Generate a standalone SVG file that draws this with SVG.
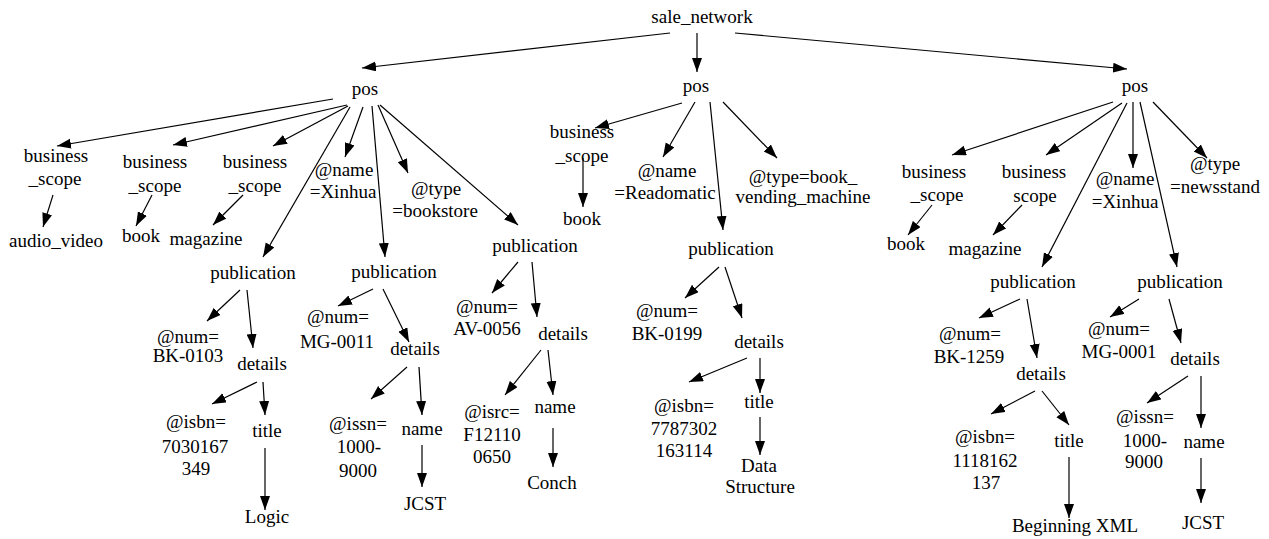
<svg xmlns="http://www.w3.org/2000/svg" width="1269" height="539" viewBox="0 0 1269 539" font-family="'Liberation Serif', 'Times New Roman', Times, 'DejaVu Serif', serif">
<style>
text{font-family:'Liberation Serif','Times New Roman',Times,'DejaVu Serif',serif;font-size:19px;fill:#000;text-anchor:middle}
.c line{stroke:#000;stroke-width:1.2;marker-end:url(#ah)}
</style>
<defs>
<marker id="ah" markerUnits="userSpaceOnUse" markerWidth="15" markerHeight="11" refX="14" refY="5" orient="auto" viewBox="0 0 15 11"><path d="M0,0 L14,5 L0,10 z" fill="#000"/></marker>
</defs>
<rect width="1269" height="539" fill="#fff"/>
<g class="c" id="connectors">
<line x1="670" y1="33" x2="362" y2="68"/>
<line x1="697" y1="33" x2="697" y2="72"/>
<line x1="735" y1="33" x2="1127" y2="69"/>
<line x1="333" y1="99" x2="57" y2="146"/>
<line x1="347" y1="105" x2="173" y2="145"/>
<line x1="348" y1="106" x2="273" y2="146"/>
<line x1="350" y1="107" x2="263" y2="257"/>
<line x1="363" y1="107" x2="345" y2="157"/>
<line x1="372" y1="106" x2="385" y2="257"/>
<line x1="378" y1="105" x2="408" y2="173"/>
<line x1="380" y1="105" x2="518" y2="225"/>
<line x1="53" y1="195" x2="43" y2="227"/>
<line x1="152" y1="195" x2="136" y2="226"/>
<line x1="243" y1="195" x2="213" y2="225"/>
<line x1="240" y1="290" x2="207" y2="321"/>
<line x1="247" y1="290" x2="253" y2="348"/>
<line x1="257" y1="382" x2="212" y2="404"/>
<line x1="263" y1="382" x2="265" y2="415"/>
<line x1="265" y1="448" x2="265" y2="510"/>
<line x1="373" y1="289" x2="338" y2="306"/>
<line x1="383" y1="289" x2="409" y2="342"/>
<line x1="407" y1="367" x2="371" y2="399"/>
<line x1="419" y1="367" x2="422" y2="415"/>
<line x1="422" y1="445" x2="422" y2="487"/>
<line x1="518" y1="262" x2="492" y2="293"/>
<line x1="532" y1="262" x2="537" y2="317"/>
<line x1="541" y1="350" x2="505" y2="395"/>
<line x1="548" y1="350" x2="553" y2="395"/>
<line x1="553" y1="428" x2="553" y2="467"/>
<line x1="682" y1="103" x2="595" y2="128"/>
<line x1="583" y1="158" x2="583" y2="207"/>
<line x1="695" y1="102" x2="663" y2="157"/>
<line x1="710" y1="102" x2="723" y2="230"/>
<line x1="723" y1="102" x2="777" y2="158"/>
<line x1="719" y1="267" x2="685" y2="298"/>
<line x1="725" y1="267" x2="742" y2="318"/>
<line x1="747" y1="358" x2="689" y2="382"/>
<line x1="760" y1="358" x2="760" y2="393"/>
<line x1="760" y1="417" x2="760" y2="455"/>
<line x1="1113" y1="102" x2="952" y2="155"/>
<line x1="1122" y1="103" x2="1046" y2="155"/>
<line x1="1127" y1="103" x2="1042" y2="267"/>
<line x1="1133" y1="102" x2="1133" y2="168"/>
<line x1="1140" y1="102" x2="1177" y2="267"/>
<line x1="1153" y1="102" x2="1207" y2="158"/>
<line x1="932" y1="205" x2="908" y2="235"/>
<line x1="1022" y1="205" x2="993" y2="235"/>
<line x1="1020" y1="299" x2="979" y2="318"/>
<line x1="1027" y1="299" x2="1037" y2="358"/>
<line x1="1035" y1="391" x2="991" y2="414"/>
<line x1="1042" y1="391" x2="1069" y2="425"/>
<line x1="1069" y1="457" x2="1069" y2="518"/>
<line x1="1139" y1="299" x2="1110" y2="317"/>
<line x1="1169" y1="299" x2="1181" y2="343"/>
<line x1="1188" y1="376" x2="1147" y2="403"/>
<line x1="1201" y1="376" x2="1201" y2="428"/>
<line x1="1201" y1="458" x2="1201" y2="503"/>
</g>
<g id="sale_network"><text x="702" y="23">sale_network</text></g>
<g id="pos1"><text x="365" y="95">pos</text></g>
<g id="pos2"><text x="696" y="92">pos</text></g>
<g id="pos3"><text x="1135" y="92">pos</text></g>
<g id="bs1"><text x="56" y="162">business</text><text x="55" y="185">_scope</text></g>
<g id="audio_video"><text x="56" y="247">audio_video</text></g>
<g id="bs2"><text x="155" y="168">business</text><text x="155" y="192">_scope</text></g>
<g id="book1"><text x="141" y="242">book</text></g>
<g id="bs3"><text x="255" y="168">business</text><text x="255" y="192">_scope</text></g>
<g id="magazine1"><text x="206" y="245">magazine</text></g>
<g id="name1"><text x="344" y="176">@name</text><text x="343" y="198">=Xinhua</text></g>
<g id="type1"><text x="436" y="195">@type</text><text x="435" y="217">=bookstore</text></g>
<g id="pub1"><text x="253" y="279">publication</text></g>
<g id="num1"><text x="188" y="343">@num=</text><text x="188" y="362">BK-0103</text></g>
<g id="details1"><text x="262" y="370">details</text></g>
<g id="isbn1"><text x="196" y="428">@isbn=</text><text x="195" y="453">7030167</text><text x="196" y="475">349</text></g>
<g id="title1"><text x="267" y="437">title</text></g>
<g id="logic"><text x="267" y="523">Logic</text></g>
<g id="pub2"><text x="394" y="278">publication</text></g>
<g id="num2"><text x="338" y="323">@num=</text><text x="337" y="348">MG-0011</text></g>
<g id="details2"><text x="415" y="355">details</text></g>
<g id="issn1"><text x="358" y="430">@issn=</text><text x="359" y="453">1000-</text><text x="358" y="477">9000</text></g>
<g id="name_el1"><text x="422" y="435">name</text></g>
<g id="jcst1"><text x="425" y="510">JCST</text></g>
<g id="pub3"><text x="535" y="252">publication</text></g>
<g id="num3"><text x="487" y="313">@num=</text><text x="487" y="335">AV-0056</text></g>
<g id="details3"><text x="563" y="340">details</text></g>
<g id="isrc"><text x="492" y="418">@isrc=</text><text x="492" y="441">F12110</text><text x="492" y="463">0650</text></g>
<g id="name_el2"><text x="555" y="413">name</text></g>
<g id="conch"><text x="552" y="489">Conch</text></g>
<g id="bs4"><text x="582" y="138">business</text><text x="582" y="162">_scope</text></g>
<g id="book2"><text x="582" y="225">book</text></g>
<g id="name2"><text x="667" y="177">@name</text><text x="665" y="199">=Readomatic</text></g>
<g id="type2"><text x="803" y="183">@type=book_</text><text x="803" y="203">vending_machine</text></g>
<g id="pub4"><text x="731" y="255">publication</text></g>
<g id="num4"><text x="667" y="317">@num=</text><text x="667" y="340">BK-0199</text></g>
<g id="details4"><text x="759" y="348">details</text></g>
<g id="isbn2"><text x="684" y="412">@isbn=</text><text x="684" y="435">7787302</text><text x="684" y="457">163114</text></g>
<g id="title2"><text x="759" y="408">title</text></g>
<g id="datastructure"><text x="759" y="472">Data</text><text x="760" y="493">Structure</text></g>
<g id="bs5"><text x="934" y="178">business</text><text x="937" y="201">_scope</text></g>
<g id="book3"><text x="906" y="250">book</text></g>
<g id="bs6"><text x="1034" y="178">business</text><text x="1035" y="202">scope</text></g>
<g id="magazine2"><text x="985" y="255">magazine</text></g>
<g id="name3"><text x="1125" y="185">@name</text><text x="1125" y="208">=Xinhua</text></g>
<g id="type3"><text x="1215" y="170">@type</text><text x="1215" y="193">=newsstand</text></g>
<g id="pub5"><text x="1033" y="288">publication</text></g>
<g id="num5"><text x="970" y="340">@num=</text><text x="969" y="363">BK-1259</text></g>
<g id="details5"><text x="1041" y="380">details</text></g>
<g id="isbn3"><text x="985" y="443">@isbn=</text><text x="985" y="467">1118162</text><text x="986" y="489">137</text></g>
<g id="title3"><text x="1069" y="447">title</text></g>
<g id="beginningxml"><text x="1075" y="532">Beginning XML</text></g>
<g id="pub6"><text x="1180" y="288">publication</text></g>
<g id="num6"><text x="1119" y="335">@num=</text><text x="1119" y="358">MG-0001</text></g>
<g id="details6"><text x="1195" y="365">details</text></g>
<g id="issn2"><text x="1145" y="423">@issn=</text><text x="1145" y="447">1000-</text><text x="1144" y="468">9000</text></g>
<g id="name_el3"><text x="1204" y="448">name</text></g>
<g id="jcst2"><text x="1203" y="529">JCST</text></g>
</svg>
